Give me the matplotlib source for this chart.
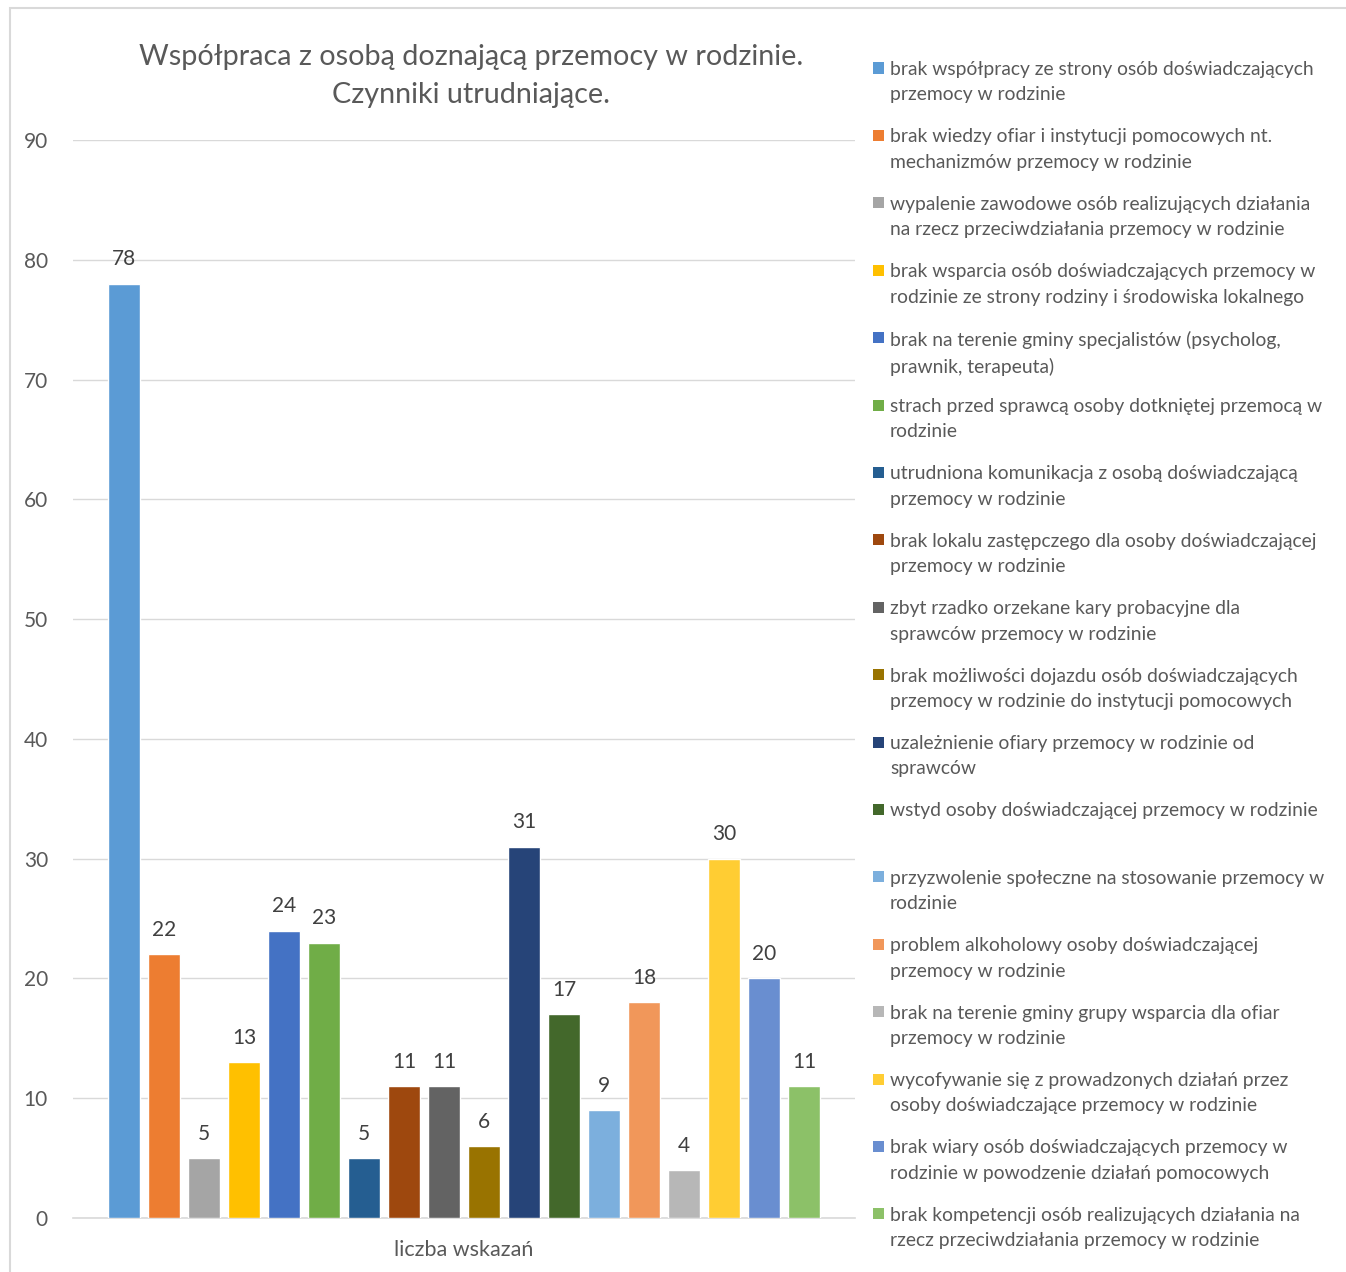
import matplotlib.pyplot as plt
from matplotlib.patches import Rectangle
import numpy as np

plt.rcParams['font.family'] = ['Lato', 'DejaVu Sans']

# --- data ---
labels = [
    "brak współpracy ze strony osób doświadczających\nprzemocy w rodzinie",
    "brak wiedzy ofiar i instytucji pomocowych nt.\nmechanizmów przemocy w rodzinie",
    "wypalenie zawodowe osób realizujących działania\nna rzecz przeciwdziałania przemocy w rodzinie",
    "brak wsparcia osób doświadczających przemocy w\nrodzinie ze strony rodziny i środowiska lokalnego",
    "brak na terenie gminy specjalistów (psycholog,\nprawnik, terapeuta)",
    "strach przed sprawcą osoby dotkniętej przemocą w\nrodzinie",
    "utrudniona komunikacja z osobą doświadczającą\nprzemocy w rodzinie",
    "brak lokalu zastępczego dla osoby doświadczającej\nprzemocy w rodzinie",
    "zbyt rzadko orzekane kary probacyjne dla\nsprawców przemocy w rodzinie",
    "brak możliwości dojazdu osób doświadczających\nprzemocy w rodzinie do instytucji pomocowych",
    "uzależnienie ofiary przemocy w rodzinie od\nsprawców",
    "wstyd osoby doświadczającej przemocy w rodzinie",
    "przyzwolenie społeczne na stosowanie przemocy w\nrodzinie",
    "problem alkoholowy osoby doświadczającej\nprzemocy w rodzinie",
    "brak na terenie gminy grupy wsparcia dla ofiar\nprzemocy w rodzinie",
    "wycofywanie się z prowadzonych działań przez\nosoby doświadczające przemocy w rodzinie",
    "brak wiary osób doświadczających przemocy w\nrodzinie w powodzenie działań pomocowych",
    "brak kompetencji osób realizujących działania na\nrzecz przeciwdziałania przemocy w rodzinie",
]
values = [78, 22, 5, 13, 24, 23, 5, 11, 11, 6, 31, 17, 9, 18, 4, 30, 20, 11]
colors = ['#5B9BD5', '#ED7D31', '#A5A5A5', '#FFC000', '#4472C4', '#70AD47',
          '#255E91', '#9E480E', '#636363', '#997300', '#264478', '#43682B',
          '#7CAFDD', '#F1975A', '#B7B7B7', '#FFCD33', '#698ED0', '#8CC168']
title = "Współpraca z osobą doznającą przemocy w rodzinie.\nCzynniki utrudniające."
xlabel = "liczba wskazań"

W, H = 1346, 1272
fig = plt.figure(figsize=(W / 100, H / 100), dpi=100)

# outer chart frame
fig.patches.append(Rectangle((10 / W, -0.05), 1.2, (H - 8) / H + 0.05,
                             transform=fig.transFigure, fill=False,
                             edgecolor='#D9D9D9', linewidth=1.5, clip_on=False))

ax = fig.add_axes([73 / W, (H - 1218) / H, (855 - 73) / W, (1218 - 140) / H])
x = np.arange(len(values))
bars = ax.bar(x, values, width=0.8, color=colors, edgecolor='white', linewidth=1, zorder=3)
for xi, v in zip(x, values):
    ax.text(xi, v + 1.2, str(v), ha='center', va='bottom', fontsize=15, color='#404040')

ax.set_ylim(0, 90)
ax.set_yticks(range(0, 91, 10))
ax.set_xlim(-1.275, 18.275)
ax.set_xticks([])
ax.grid(axis='y', color='#D9D9D9', linewidth=1, zorder=0)
for s in ['left', 'right', 'top']:
    ax.spines[s].set_visible(False)
ax.spines['bottom'].set_color('#D9D9D9')
ax.spines['bottom'].set_linewidth(1.2)
ax.tick_params(axis='y', length=0, labelsize=15, labelcolor='#595959', pad=18)
ax.set_xlabel(xlabel, fontsize=15.5, color='#595959', labelpad=16)

fig.text(471 / W, 1 - 76 / H, title, ha='center', va='center', fontsize=20.7,
         color='#595959', linespacing=1.6)

# legend: square marker aligned with first line of each entry
for i, (lab, c) in enumerate(zip(labels, colors)):
    yy = 68 + i * 67.4
    fig.patches.append(Rectangle((873 / W, 1 - (yy + 5.5) / H), 11 / W, 11 / H,
                                 transform=fig.transFigure, facecolor=c,
                                 edgecolor='none'))
    fig.text(890 / W, 1 - (yy - 7) / H, lab, ha='left', va='top', fontsize=13.9,
             color='#595959', linespacing=1.6)

fig.savefig('out.png', dpi=100)
